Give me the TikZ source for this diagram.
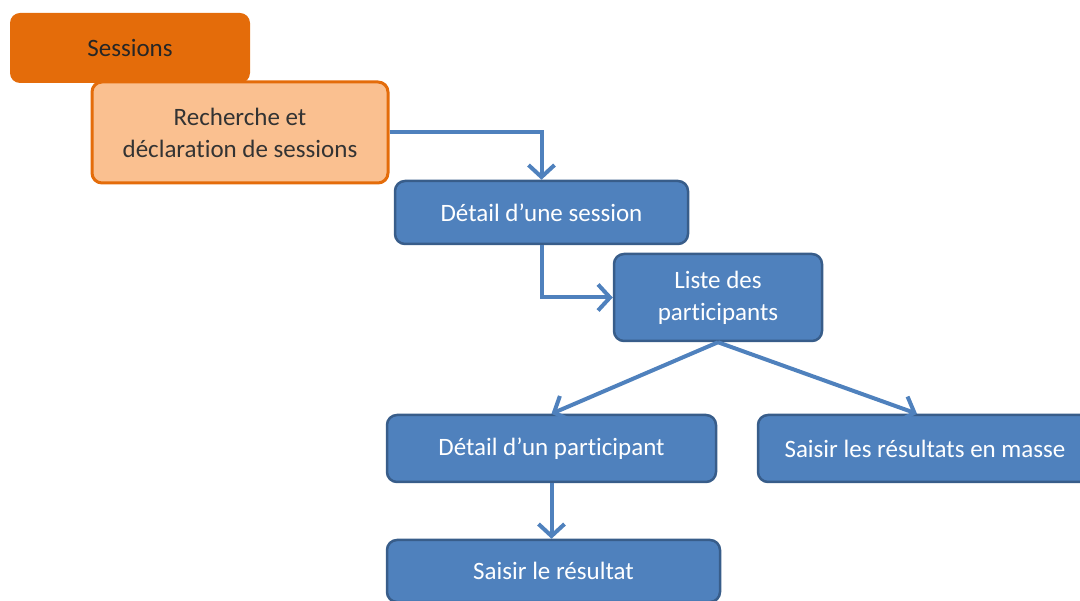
\documentclass[tikz,border=0pt]{standalone}
\usepackage{fontspec}
\setmainfont{Carlito}[Ligatures=NoCommon]
\usetikzlibrary{arrows.meta}
\definecolor{dorange}{HTML}{E46C0A}
\definecolor{lorange}{HTML}{FAC090}
\definecolor{bfill}{HTML}{4F81BD}
\definecolor{bline}{HTML}{385D8A}
\tikzset{
  box/.style={rectangle, rounded corners=10pt, align=center, inner sep=2pt, font=\fontsize{25}{32}\selectfont},
  darkbox/.style={box, fill=dorange, text=black!85},
  lightbox/.style={box, fill=lorange, draw=dorange, line width=3pt, text=black!80},
  bluebox/.style={box, fill=bfill, draw=bline, line width=2.5pt, text=white},
  conn/.style={draw=bfill, line width=4pt, -{Straight Barb[length=12pt,width=26pt,line width=4pt]}},
}
\begin{document}
\begin{tikzpicture}[x=1pt,y=-1pt]
\useasboundingbox (0,0) rectangle (1080,601);
\node[darkbox, minimum width=240pt, minimum height=70pt] (ses) at (130,48) {Sessions};
\node[lightbox, minimum width=296pt, minimum height=101pt] (rech) at (240,132.5) {Recherche et\\déclaration de sessions};
\node[bluebox, minimum width=293pt, minimum height=63pt] (ds) at (541.5,212.5) {Détail d’une session};
\node[bluebox, minimum width=208pt, minimum height=87pt] (liste) at (718,297.5) {Liste des\\participants};
\node[bluebox, minimum width=329pt, minimum height=67pt] (dp) at (551.5,448.5) {Détail d’un participant};
\node[bluebox, minimum width=334pt, minimum height=67pt] (masse) at (925,448.5) {Saisir les résultats en masse};
\node[bluebox, minimum width=333pt, minimum height=62pt] (sr) at (553.5,571) {Saisir le résultat};
\draw[conn] (rech.east) -| (ds.north);
\draw[conn] (ds.south) |- (liste.west);
\draw[conn] (liste.south) -- (dp.north);
\draw[conn] (liste.south) -- ([xshift=-8pt]masse.north);
\draw[conn] (dp.south) -- (dp.south |- sr.north);
\end{tikzpicture}
\end{document}
